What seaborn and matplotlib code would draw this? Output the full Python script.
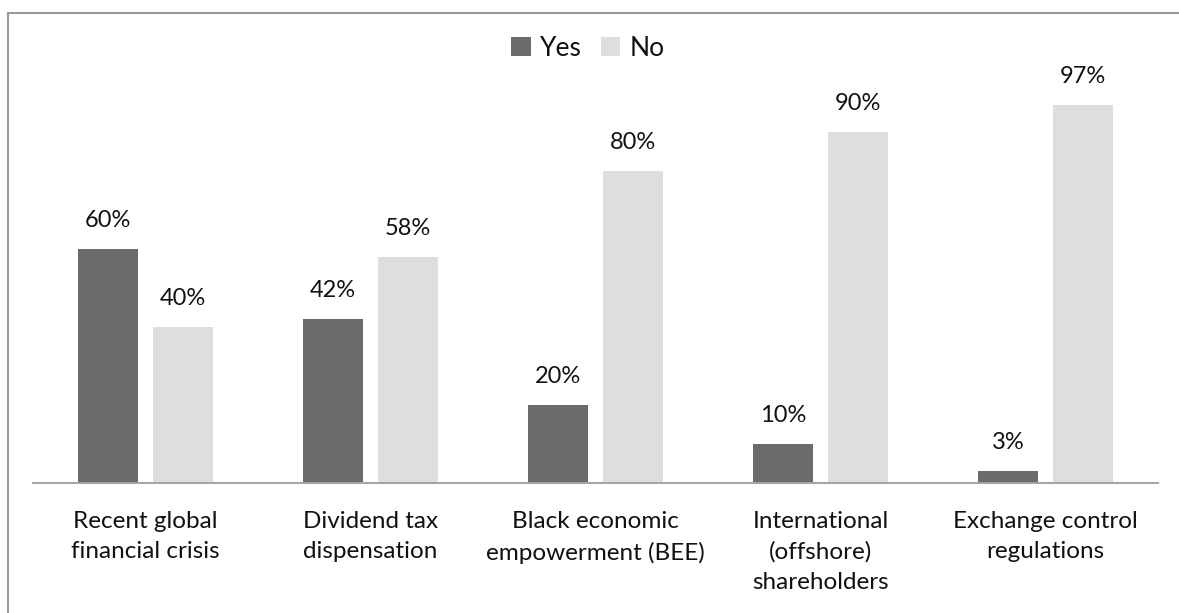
import matplotlib
matplotlib.use("Agg")
import matplotlib.pyplot as plt
from matplotlib.lines import Line2D
import seaborn as sns
import pandas as pd

categories = ["Recent global\nfinancial crisis", "Dividend tax\ndispensation",
              "Black economic\nempowerment (BEE)", "International\n(offshore)\nshareholders",
              "Exchange control\nregulations"]
yes_values = [60, 42, 20, 10, 3]
no_values = [40, 58, 80, 90, 97]
series = ["Yes", "No"]
colors = ["#6b6b6b", "#dedede"]

df = pd.DataFrame({
    "category": categories * 2,
    "answer": ["Yes"] * len(categories) + ["No"] * len(categories),
    "value": yes_values + no_values,
})

sns.set_theme(style="white")
plt.rcParams["font.family"] = ["Lato", "DejaVu Sans"]

W, H = 1179, 613
fig = plt.figure(figsize=(W / 100, H / 100), dpi=100)
ax = fig.add_axes([33 / W, (H - 483) / H, 1125 / W, 390 / H])

sns.barplot(data=df, x="category", y="value", hue="answer", hue_order=series,
            palette=colors, width=0.667, gap=0.2, ax=ax, saturation=1,
            edgecolor="none", linewidth=0)

ax.set_ylim(0, 100)
ax.set_xlim(-0.5, len(categories) - 0.5)
ax.set_xlabel("")
ax.set_ylabel("")
ax.set_yticks([])
for s in ["top", "right", "left"]:
    ax.spines[s].set_visible(False)
ax.spines["bottom"].set_color("#a6a6a6")
ax.spines["bottom"].set_linewidth(1.5)
ax.tick_params(axis="x", length=0, pad=20, labelsize=17.5, labelcolor="#111111")
for lbl in ax.get_xticklabels():
    lbl.set_linespacing(1.55)

for cont in ax.containers:
    labels = [f"{int(round(b.get_height()))}%" for b in cont]
    ax.bar_label(cont, labels=labels, padding=13, fontsize=17, color="#111111")

leg = ax.legend(loc="center", bbox_to_anchor=(588 / W, (H - 48) / H),
                bbox_transform=fig.transFigure, ncol=2, frameon=False,
                fontsize=19, handlelength=0.75, handleheight=0.75,
                handletextpad=0.35, columnspacing=0.7)
for t in leg.get_texts():
    t.set_color("#111111")

# outer chart border (top and left)
fig.add_artist(Line2D([8 / W, 1.0], [(H - 13) / H, (H - 13) / H],
                      transform=fig.transFigure, color="#9a9a9a", linewidth=1.5))
fig.add_artist(Line2D([8 / W, 8 / W], [0, (H - 13) / H],
                      transform=fig.transFigure, color="#9a9a9a", linewidth=1.5))

fig.savefig("out.png", dpi=100)
